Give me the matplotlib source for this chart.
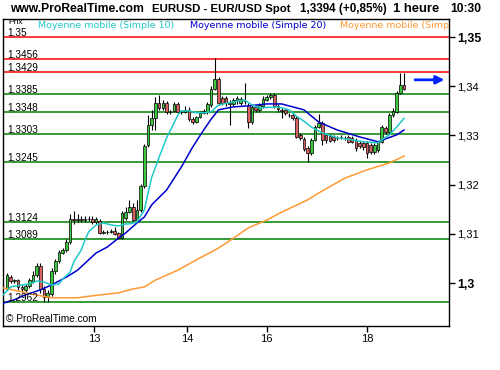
import numpy as np
import matplotlib
matplotlib.use('Agg')
import matplotlib.pyplot as plt
from matplotlib.transforms import blended_transform_factory

# EURUSD hourly candles
opens = [1.2988, 1.3012, 1.3004, 1.3006, 1.2992, 1.2986, 1.2994, 1.3004, 1.3016, 1.3035,
         1.2988, 1.2972, 1.2978, 1.3024, 1.3045, 1.3061, 1.3067, 1.3083, 1.3130, 1.3129,
         1.3131, 1.3129, 1.3130, 1.3131, 1.3124, 1.3126, 1.3102, 1.3104, 1.3104, 1.3106,
         1.3102, 1.3092, 1.3132, 1.3144, 1.3155, 1.3128, 1.3148, 1.3197, 1.3280, 1.3321,
         1.3335, 1.3366, 1.3356, 1.3366, 1.3348, 1.3350, 1.3364, 1.3348, 1.3348, 1.3352,
         1.3333, 1.3327, 1.3337, 1.3346, 1.3348, 1.3362, 1.3394, 1.3415, 1.3376, 1.3376,
         1.3366, 1.3364, 1.3372, 1.3366, 1.3370, 1.3362, 1.3327, 1.3358, 1.3352, 1.3360,
         1.3372, 1.3378, 1.3382, 1.3360, 1.3352, 1.3352, 1.3342, 1.3342, 1.3335, 1.3301,
         1.3293, 1.3274, 1.3264, 1.3291, 1.3317, 1.3325, 1.3301, 1.3299, 1.3297, 1.3295,
         1.3297, 1.3295, 1.3297, 1.3295, 1.3291, 1.3285, 1.3285, 1.3285, 1.3280, 1.3266,
         1.3270, 1.3286, 1.3315, 1.3307, 1.3341, 1.3348, 1.3386, 1.3402]
highs = [1.3020, 1.3016, 1.3008, 1.3008, 1.2996, 1.2998, 1.3010, 1.3024, 1.3041, 1.3041,
         1.2994, 1.2986, 1.3030, 1.3049, 1.3067, 1.3071, 1.3089, 1.3140, 1.3146, 1.3140,
         1.3136, 1.3136, 1.3136, 1.3136, 1.3134, 1.3130, 1.3108, 1.3108, 1.3110, 1.3114,
         1.3104, 1.3146, 1.3155, 1.3169, 1.3163, 1.3169, 1.3201, 1.3282, 1.3341, 1.3352,
         1.3378, 1.3382, 1.3372, 1.3370, 1.3352, 1.3368, 1.3368, 1.3352, 1.3360, 1.3358,
         1.3337, 1.3339, 1.3350, 1.3354, 1.3368, 1.3400, 1.3457, 1.3419, 1.3380, 1.3380,
         1.3372, 1.3376, 1.3380, 1.3378, 1.3407, 1.3366, 1.3364, 1.3362, 1.3366, 1.3380,
         1.3382, 1.3386, 1.3386, 1.3364, 1.3356, 1.3354, 1.3346, 1.3346, 1.3339, 1.3305,
         1.3297, 1.3278, 1.3295, 1.3321, 1.3344, 1.3329, 1.3305, 1.3303, 1.3301, 1.3299,
         1.3301, 1.3299, 1.3301, 1.3299, 1.3295, 1.3289, 1.3289, 1.3289, 1.3285, 1.3285,
         1.3289, 1.3321, 1.3319, 1.3346, 1.3356, 1.3390, 1.3427, 1.3427]
lows = [1.2986, 1.3000, 1.3000, 1.2986, 1.2982, 1.2982, 1.2990, 1.3000, 1.3012, 1.2980,
        1.2961, 1.2961, 1.2974, 1.3018, 1.3041, 1.3059, 1.3063, 1.3079, 1.3120, 1.3124,
        1.3124, 1.3124, 1.3126, 1.3120, 1.3120, 1.3100, 1.3100, 1.3100, 1.3102, 1.3098,
        1.3089, 1.3089, 1.3128, 1.3142, 1.3126, 1.3126, 1.3144, 1.3193, 1.3276, 1.3311,
        1.3311, 1.3352, 1.3352, 1.3344, 1.3344, 1.3348, 1.3346, 1.3344, 1.3346, 1.3329,
        1.3323, 1.3325, 1.3335, 1.3344, 1.3344, 1.3358, 1.3392, 1.3362, 1.3362, 1.3360,
        1.3321, 1.3360, 1.3364, 1.3362, 1.3364, 1.3315, 1.3323, 1.3348, 1.3348, 1.3356,
        1.3370, 1.3374, 1.3356, 1.3348, 1.3335, 1.3342, 1.3337, 1.3331, 1.3295, 1.3291,
        1.3268, 1.3246, 1.3260, 1.3289, 1.3315, 1.3280, 1.3285, 1.3287, 1.3287, 1.3291,
        1.3293, 1.3291, 1.3285, 1.3285, 1.3268, 1.3274, 1.3270, 1.3254, 1.3262, 1.3262,
        1.3266, 1.3284, 1.3303, 1.3303, 1.3337, 1.3345, 1.3384, 1.3392]
closes = [1.3016, 1.3004, 1.3006, 1.2992, 1.2988, 1.2994, 1.3006, 1.3016, 1.3035, 1.2988,
          1.2972, 1.2980, 1.3024, 1.3045, 1.3063, 1.3067, 1.3083, 1.3130, 1.3129, 1.3131,
          1.3129, 1.3130, 1.3131, 1.3124, 1.3130, 1.3102, 1.3104, 1.3104, 1.3106, 1.3100,
          1.3092, 1.3142, 1.3144, 1.3155, 1.3128, 1.3148, 1.3197, 1.3278, 1.3321, 1.3335,
          1.3366, 1.3356, 1.3366, 1.3348, 1.3348, 1.3364, 1.3348, 1.3348, 1.3352, 1.3333,
          1.3327, 1.3337, 1.3346, 1.3350, 1.3364, 1.3394, 1.3415, 1.3366, 1.3366, 1.3366,
          1.3364, 1.3372, 1.3376, 1.3374, 1.3370, 1.3327, 1.3358, 1.3352, 1.3362, 1.3374,
          1.3378, 1.3382, 1.3360, 1.3354, 1.3350, 1.3346, 1.3341, 1.3335, 1.3297, 1.3295,
          1.3272, 1.3264, 1.3291, 1.3317, 1.3325, 1.3291, 1.3291, 1.3289, 1.3291, 1.3295,
          1.3297, 1.3295, 1.3287, 1.3287, 1.3274, 1.3278, 1.3276, 1.3264, 1.3266, 1.3280,
          1.3286, 1.3317, 1.3307, 1.3341, 1.3350, 1.3386, 1.3402, 1.3394]

# moving averages, read at some bar indices
ma10_idx = [-1, 1, 4, 6, 8, 10, 12, 14, 15, 17, 18, 20, 21, 22, 24, 26, 28, 30, 32, 33, 35,
            37, 38, 39, 41, 43, 45, 46, 47, 49, 51, 53, 55, 57, 61, 64, 66, 68, 73, 76, 78,
            80, 82, 85, 89, 93, 96, 100, 101, 103, 105, 107]
ma10_val = [1.2976, 1.2992, 1.2996, 1.2998, 1.3004, 1.3002, 1.2996, 1.2998, 1.3008, 1.3022,
            1.3043, 1.3067, 1.3087, 1.3104, 1.3118, 1.3122, 1.3118, 1.3116, 1.3120, 1.3120,
            1.3124, 1.3148, 1.3183, 1.3215, 1.3256, 1.3295, 1.3325, 1.3341, 1.3350, 1.3350,
            1.3346, 1.3346, 1.3348, 1.3362, 1.3368, 1.3372, 1.3362, 1.3356, 1.3358, 1.3352,
            1.3339, 1.3329, 1.3317, 1.3305, 1.3295, 1.3291, 1.3287, 1.3285, 1.3291, 1.3301,
            1.3317, 1.3335]
ma20_idx = [-1, 2, 5, 9, 12, 16, 19, 22, 24, 27, 30, 32, 35, 37, 39, 43, 47, 50, 53, 55,
            57, 61, 65, 70, 74, 77, 80, 84, 89, 95, 100, 102, 105, 107]
ma20_val = [1.2959, 1.2966, 1.2976, 1.2986, 1.2996, 1.3012, 1.3026, 1.3047, 1.3061, 1.3073,
            1.3091, 1.3102, 1.3122, 1.3134, 1.3159, 1.3189, 1.3236, 1.3276, 1.3311, 1.3333,
            1.3352, 1.3358, 1.3360, 1.3364, 1.3364, 1.3358, 1.3352, 1.3327, 1.3311, 1.3297,
            1.3287, 1.3293, 1.3301, 1.3311]
ma_long_idx = [-1, 4, 9, 12, 19, 23, 30, 34, 37, 40, 46, 52, 57, 61, 65, 70, 74, 81, 84,
               91, 97, 103, 107]
ma_long_val = [1.2990, 1.2982, 1.2974, 1.2970, 1.2970, 1.2974, 1.2980, 1.2988, 1.2992,
               1.3006, 1.3026, 1.3051, 1.3071, 1.3091, 1.3112, 1.3128, 1.3144, 1.3169,
               1.3183, 1.3213, 1.3230, 1.3244, 1.3258]

levels = [1.35, 1.3456, 1.3429, 1.3385, 1.3348, 1.3303, 1.3245, 1.3124, 1.3089, 1.2962]
level_labels = ['1,35', '1,3456', '1,3429', '1,3385', '1,3348', '1,3303', '1,3245',
                '1,3124', '1,3089', '1,2962']
level_colors = ['#ff0000', '#ff0000', '#ff0000', '#008000', '#008000', '#008000',
                '#008000', '#008000', '#008000', '#008000']

y_ticks = [1.30, 1.31, 1.32, 1.33, 1.34, 1.35]
y_tick_labels = ['1,3', '1,31', '1,32', '1,33', '1,34', '1,35']
day_start_idx = [23.5, 48.5, 70, 97]
day_labels = ['13', '14', '16', '18']
last_arrow_price = 1.3413

plt.rcParams['font.family'] = ['Liberation Sans', 'DejaVu Sans']

fig = plt.figure(figsize=(5, 3.7), dpi=100)
ax = fig.add_axes([3 / 500, 44 / 370, 446 / 500, 307 / 370])

x = np.arange(len(closes))
o = np.array(opens)
c = np.array(closes)
up = c >= o

# support / resistance lines
for lev, col in zip(levels, level_colors):
    ax.axhline(lev, color=col, lw=1.1, zorder=1)

# wicks then bodies
ax.vlines(x, lows, highs, color='black', lw=0.8, zorder=2)
body_col = np.where(up, '#3cc83c', '#d86262')
ax.bar(x, np.abs(c - o), bottom=np.minimum(o, c), width=0.72, color=body_col,
       edgecolor='black', linewidth=0.5, zorder=3)

# moving averages
ax.plot(ma_long_idx, ma_long_val, color='#ff9933', lw=1.1, zorder=4)
ax.plot(ma20_idx, ma20_val, color='#0000cc', lw=1.1, zorder=4)
ax.plot(ma10_idx, ma10_val, color='#20c8c8', lw=1.1, zorder=4)

ax.set_xlim(-1.08, 119.1)
ax.set_ylim(1.29126, 1.35366)

# level labels on the left
tr = blended_transform_factory(ax.transAxes, ax.transData)
for lev, lab in zip(levels, level_labels):
    ax.text(0.009, lev + 0.0003, lab, transform=tr, fontsize=7.2, va='baseline',
            ha='left', zorder=5)
ax.text(0.011, 1.0, 'Prix', transform=ax.transAxes, fontsize=6, va='top', ha='left')

# legend line
ax.text(0.0785, 0.994, 'Moyenne mobile (Simple 10)', transform=ax.transAxes,
        fontsize=6.8, family='DejaVu Sans', color='#20c8c8', va='top')
ax.text(0.419, 0.994, 'Moyenne mobile (Simple 20)', transform=ax.transAxes,
        fontsize=6.8, family='DejaVu Sans', color='#0000cc', va='top')
ax.text(0.756, 0.994, 'Moyenne mobile (Simple 100)', transform=ax.transAxes,
        fontsize=6.8, family='DejaVu Sans', color='#ff9933', va='top', clip_on=True)

ax.text(0.007, 0.006, '\u00a9 ProRealTime.com', transform=ax.transAxes, fontsize=7.3,
        va='bottom', ha='left')

# blue arrow for the last price
ax.annotate('', xy=(118.6, last_arrow_price), xytext=(109.2, last_arrow_price),
            arrowprops=dict(arrowstyle='-|>', color='#0022ff', lw=2, mutation_scale=12),
            annotation_clip=False, zorder=6)

# axes
ax.yaxis.tick_right()
ax.set_yticks(y_ticks)
ax.set_yticklabels(y_tick_labels)
for lab, v in zip(ax.get_yticklabels(), y_ticks):
    if v in (1.30, 1.35):
        lab.set_fontweight('bold')
        lab.set_fontsize(8.9)
    else:
        lab.set_fontsize(8)
ax.set_xticks(day_start_idx)
ax.set_xticklabels(day_labels, fontsize=8)
ax.tick_params(axis='both', direction='out', length=4, width=1, pad=2, colors='black')
for s in ax.spines.values():
    s.set_linewidth(1)
    s.set_color('black')

# header
hy = 1 - 9 / 370
fig.text(10 / 500, hy, 'www.ProRealTime.com', fontsize=8.7, fontweight='bold', va='center')
fig.text(152 / 500, hy, 'EURUSD - EUR/USD Spot', fontsize=8.2, fontweight='bold', va='center')
fig.text(300 / 500, hy, '1,3394 (+0,85%)', fontsize=8.4, fontweight='bold', va='center')
fig.text(393 / 500, hy, '1 heure', fontsize=9.4, fontweight='bold', va='center')
fig.text(450 / 500, hy, '10:30', fontsize=8.7, fontweight='bold', va='center')

fig.savefig('out.png', dpi=100)
